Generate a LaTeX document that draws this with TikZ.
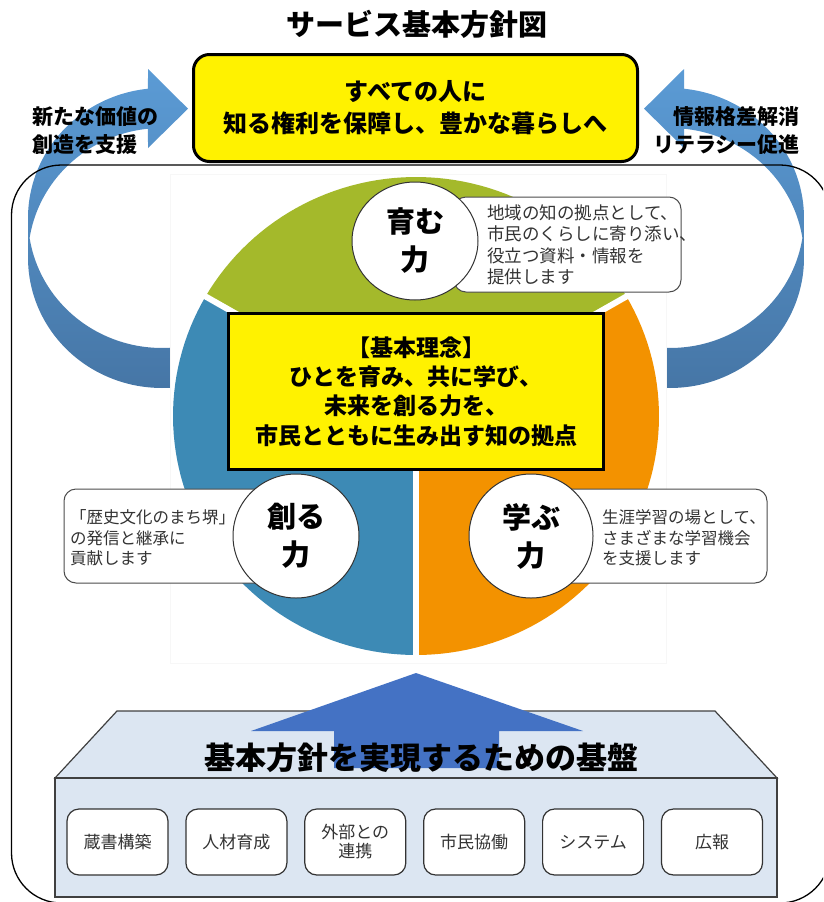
\documentclass[tikz,border=0pt]{standalone}
\usepackage{fontspec}
\setmainfont{Noto Sans CJK JP}
\usepackage{xcolor}
\usepackage{tikz}
\usetikzlibrary{positioning,shapes.geometric}

\definecolor{piegreen}{HTML}{A4B92B}
\definecolor{pieblue}{HTML}{3D8AB5}
\definecolor{pieorange}{HTML}{F39200}
\definecolor{arrowtop}{HTML}{5B9BD5}
\definecolor{arrowbot}{HTML}{4676A6}
\definecolor{uparrow}{HTML}{4472C4}
\definecolor{basefill}{HTML}{DCE6F2}
\definecolor{textgray}{HTML}{333333}

\begin{document}
\begin{tikzpicture}[x=1pt, y=-1pt,
	goalbox/.style={
		draw, line width=3pt, fill=yellow, rounded corners=16pt,
		align=center, font=\fontsize{24}{32}\selectfont\bfseries
	},
	ideabox/.style={
		draw, line width=3pt, fill=yellow,
		align=center, font=\fontsize{23}{29.3}\selectfont\bfseries
	},
	sidelabel/.style={
		inner sep=0pt, font=\fontsize{21}{28}\selectfont\bfseries
	},
	power/.style={
		ellipse, draw=black!80, line width=1pt, fill=white, inner sep=0pt,
		align=center, font=\fontsize{29}{38}\selectfont\bfseries
	},
	callout/.style={
		draw=black!70, line width=1pt, fill=white, rounded corners=12pt
	},
	callouttext/.style={
		inner sep=0pt, align=left, text=textgray, anchor=west
	},
	basebox/.style={
		draw=black!80, line width=1.2pt, fill=white, rounded corners=12pt,
		minimum width=101pt, minimum height=66pt, align=center,
		text=textgray, font=\fontsize{17}{19}\selectfont
	}
	]
	\useasboundingbox (0,0) rectangle (823,902);
	\clip (0,0) rectangle (823,902);
	
	% curved arrows on both sides
	\foreach \s/\o in {1/0, -1/832} {
		\begin{scope}[xshift=\o pt, xscale=\s]
			\shade[top color=arrowtop, bottom color=arrowbot]
			plot[domain=75:180, samples=50] ({162+134*cos(\x)},{258+130*sin(\x)})
			-- plot[domain=180:75, samples=50] ({162+134*cos(\x)},{218+130*sin(\x)}) -- cycle
			plot[domain=180:264, samples=50] ({162+134*cos(\x)},{218+130*sin(\x)})
			-- (148,69) -- (188,108.7) -- (148,148)
			-- plot[domain=264:180, samples=50] ({162+134*cos(\x)},{258+130*sin(\x)}) -- cycle;
		\end{scope}
	}
	
	\draw[line width=1.3pt, rounded corners=50pt] (11.5,165) rectangle (830,903);
	
	\node[sidelabel, anchor=west, align=left] (newvalue) at (32,131) {新たな価値の\\創造を支援};
	\node[sidelabel, anchor=east, align=right] (literacy) at (800,131) {情報格差解消\\リテラシー促進};
	
	\node[font=\fontsize{29}{29}\selectfont\bfseries] (title) at (417,24) {サービス基本方針図};
	\node[goalbox, minimum width=444pt, minimum height=107pt] (goal) at (415.5,108) {すべての人に\\知る権利を保障し、豊かな暮らしへ};
	
	% pie
	\draw[black!3, fill=white] (170,174) rectangle (666,663);
	\fill[piegreen] (416,416) -- plot[domain=30:150, samples=60] ({416+243*cos(\x)},{416-239*sin(\x)}) -- cycle;
	\fill[pieblue] (416,416) -- plot[domain=150:270, samples=60] ({416+243*cos(\x)},{416-239*sin(\x)}) -- cycle;
	\fill[pieorange] (416,416) -- plot[domain=270:390, samples=60] ({416+243*cos(\x)},{416-239*sin(\x)}) -- cycle;
	\foreach \a in {30,150,270}
		\draw[white, line width=6pt] (416,416) -- ({416+246*cos(\a)},{416-242*sin(\a)});
	
	\node[callout, minimum width=227pt, minimum height=95pt] (nurture-box) at (567.5,244.5) {};
	\node[callouttext, font=\fontsize{17.5}{21.5}\selectfont] (nurture-txt) at (487,245) {地域の知の拠点として、\\市民のくらしに寄り添い、\\役立つ資料・情報を\\提供します};
	\node[callout, minimum width=226pt, minimum height=94pt] (create-box) at (177,536) {};
	\node[callouttext, font=\fontsize{16.5}{20.5}\selectfont] (create-txt) at (70,538) {「歴史文化のまち堺」\\の発信と継承に\\貢献します};
	\node[callout, minimum width=222pt, minimum height=94pt] (learn-box) at (656,536) {};
	\node[callouttext, font=\fontsize{16.5}{20.5}\selectfont] (learn-txt) at (602,538) {生涯学習の場として、\\さまざまな学習機会\\を支援します};
	
	\node[power, minimum width=126pt, minimum height=118pt] (nurture) at (415,241) {育む\\力};
	\node[power, minimum width=126pt, minimum height=124pt] (create) at (296,536) {創る\\力};
	\node[power, minimum width=124pt, minimum height=124pt] (learn) at (531,536) {学ぶ\\力};
	
	\node[ideabox, minimum width=375pt, minimum height=156pt] (idea) at (416,391.5) {【基本理念】\\ひとを育み、共に学び、\\未来を創る力を、\\市民とともに生み出す知の拠点};
	
	% foundation
	\filldraw[fill=basefill, draw=black!75, line width=1.2pt] (55,778) -- (117,711) -- (715,711) -- (777,778) -- cycle;
	\filldraw[fill=basefill, draw=black!75, line width=1.2pt] (55,778) rectangle (777,897);
	\fill[uparrow] (416,673) -- (583,731) -- (499,731) -- (499,768) -- (334,768) -- (334,731) -- (251,731) -- cycle;
	\node[font=\fontsize{31}{31}\selectfont\bfseries] (basetitle) at (421,758) {基本方針を実現するための基盤};
	
	\foreach \t [count=\i] in {蔵書構築, 人材育成, {外部との\\連携}, 市民協働, システム, 広報}
		\node[basebox] (base-\i) at ({117.5+118.9*(\i-1)},842) {\t};
\end{tikzpicture}
\end{document}
